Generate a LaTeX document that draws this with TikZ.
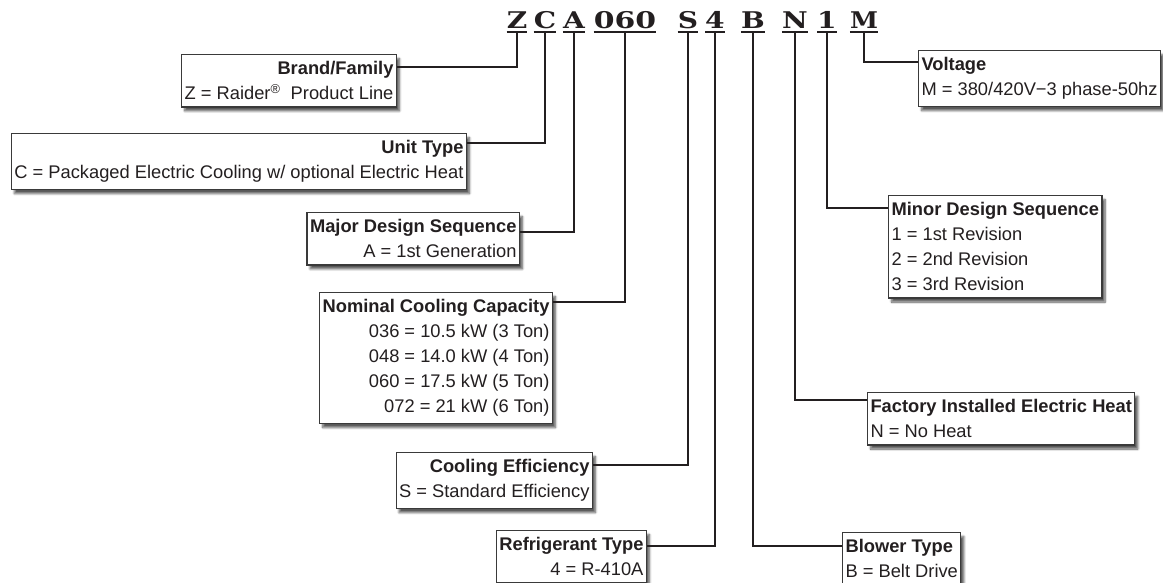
\documentclass[tikz,border=0pt]{standalone}
\usepackage{fontspec}
\setmainfont{Liberation Sans}
\newfontfamily\codefont{DejaVu Serif}
\usepackage{tikz}
\usetikzlibrary{positioning, calc, shadows.blur}
\definecolor{code-ink}{HTML}{231F20}
\definecolor{code-frame}{HTML}{3A3A3A}

\begin{document}
\begin{tikzpicture}[x=1pt, y=-1pt,
    infobox/.style={draw=code-frame, line width=1.1pt, fill=white, text=code-ink,
                    font=\fontsize{18.3}{25}\selectfont, inner xsep=3pt, inner ysep=7pt,
                    blur shadow={shadow xshift=3pt, shadow yshift=-4pt,
                                 shadow blur steps=8, shadow opacity=65}},
    leftbox/.style={infobox, anchor=north east, align=right},
    rightbox/.style={infobox, anchor=north west, align=left},
    letter/.style={anchor=base, inner sep=0pt, text=code-ink,
                   font=\codefont\bfseries\fontsize{23}{23}\selectfont},
    bar/.style={line width=1.6pt, code-ink},
    wire/.style={line width=1.6pt, code-ink},
]
    \useasboundingbox (0,0) rectangle (1163,582);

    % Model number
    \node[letter] (z)   at (517,28) {\scalebox{1.22}[1]{Z}};
    \node[letter] (c)   at (545,28) {\scalebox{1.22}[1]{C}};
    \node[letter] (a)   at (574,28) {\scalebox{1.22}[1]{A}};
    \node[letter] (cap) at (625,28) {\scalebox{1.3}[1]{060}};
    \node[letter] (s)   at (688,28) {\scalebox{1.22}[1]{S}};
    \node[letter] (r)   at (715,28) {\scalebox{1.22}[1]{4}};
    \node[letter] (b)   at (753,28) {\scalebox{1.22}[1]{B}};
    \node[letter] (n)   at (795,28) {\scalebox{1.22}[1]{N}};
    \node[letter] (rev) at (827,28) {\scalebox{1.22}[1]{1}};
    \node[letter] (v)   at (864,28) {\scalebox{1.1}[1]{M}};

    \foreach \c in {z, c, a, cap, s, r, b, n, rev, v} {
        \draw[bar] ([yshift=-4pt]\c.base west) -- ([yshift=-4pt]\c.base east);
        \coordinate (\c-t) at ([yshift=-4pt]\c.base);
    }

    % Left side
    \node[leftbox] (brand) at (397,54)
        {\textbf{Brand/Family}\\Z = Raider\textsuperscript{®}\ \ Product Line};
    \node[leftbox] (unit) at (467,133)
        {\textbf{Unit Type}\\C = Packaged Electric Cooling w/ optional Electric Heat};
    \node[leftbox] (major) at (520,212)
        {\textbf{Major Design Sequence}\\A = 1st Generation};
    \node[leftbox] (nominal) at (553,292)
        {\textbf{Nominal Cooling Capacity}\\036 = 10.5 kW (3 Ton)\\048 = 14.0 kW (4 Ton)\\
         060 = 17.5 kW (5 Ton)\\072 = 21 kW (6 Ton)};
    \node[leftbox] (effic) at (593,452)
        {\textbf{Cooling Efficiency}\\S = Standard Efficiency};
    \node[leftbox] (refrig) at (647,530)
        {\textbf{Refrigerant Type}\\4 = R-410A};

    % Right side
    \node[rightbox] (volt) at (918,50)
        {\textbf{Voltage}\\M = 380/420V\symbol{"2212}3 phase-50hz};
    \node[rightbox] (minor) at (888,195)
        {\textbf{Minor Design Sequence}\\1 = 1st Revision\\2 = 2nd Revision\\3 = 3rd Revision};
    \node[rightbox] (heat) at (867,392)
        {\textbf{Factory Installed Electric Heat}\\N = No Heat};
    \node[rightbox] (blower) at (842,532)
        {\textbf{Blower Type}\\B = Belt Drive};

    % Leaders
    \draw[wire] ([yshift=-13pt]brand.north east)   -| (z-t);
    \draw[wire] ([yshift=-10pt]unit.north east)    -| (c-t);
    \draw[wire] ([yshift=-20pt]major.north east)   -| (a-t);
    \draw[wire] ([yshift=-10pt]nominal.north east) -| (cap-t);
    \draw[wire] ([yshift=-13pt]effic.north east)   -| (s-t);
    \draw[wire] ([yshift=-16pt]refrig.north east)  -| (r-t);
    \draw[wire] (b-t)   |- ([yshift=-14pt]blower.north west);
    \draw[wire] (n-t)   |- ([yshift=-8pt]heat.north west);
    \draw[wire] (rev-t) |- ([yshift=-13pt]minor.north west);
    \draw[wire] (v-t)   |- ([yshift=-12pt]volt.north west);
\end{tikzpicture}
\end{document}
